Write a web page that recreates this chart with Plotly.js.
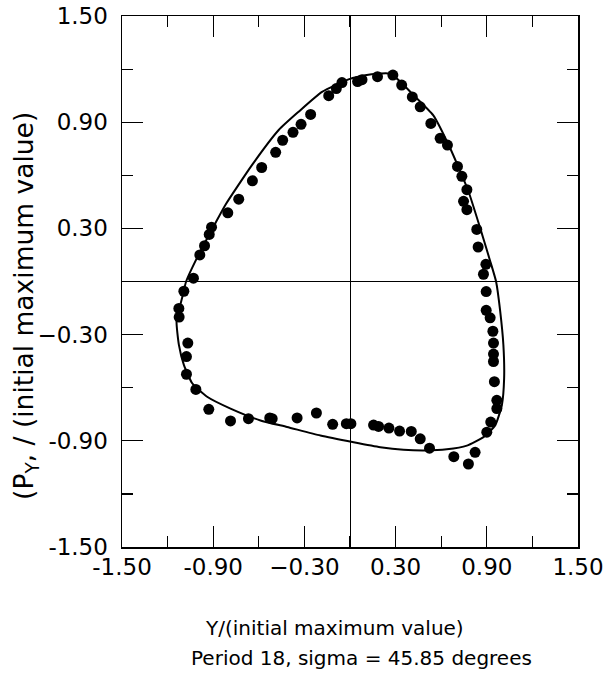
<!DOCTYPE html>
<html>
<head>
<meta charset="utf-8">
<script src="https://cdn.plot.ly/plotly-3.0.1.min.js"></script>
<style>
  html, body { margin: 0; padding: 0; background: #fff; }
  #chart { width: 608px; height: 685px; }
</style>
</head>
<body>
<div id="chart"></div>
<script>
// Measured particle positions (Y, P_Y), normalized
var pointsX = [-1.093, -1.03, -0.988, -0.957, -0.926, -0.911, -0.804, -0.732, -0.642, -0.581,
  -0.489, -0.443, -0.375, -0.322, -0.259, -0.14, -0.09, -0.053, 0.05, 0.079,
  0.181, 0.282, 0.34, 0.41, 0.462, 0.532, 0.593, 0.641, 0.707, 0.736,
  0.769, 0.747, 0.769, 0.834, 0.843, 0.894, 0.878, 0.896, 0.896, 0.922,
  0.94, 0.944, 0.944, 0.944, 0.95, 0.966, 0.966, 0.926, 0.9, 0.823,
  0.779, 0.683, 0.523, 0.462, 0.403, 0.326, 0.256, 0.188, 0.155, 0.006,
  -0.024, -0.114, -0.221, -0.348, -0.512, -0.528, -0.668, -0.786, -0.929, -1.014,
  -1.076, -1.076, -1.067, -1.124, -1.126];
var pointsY = [-0.055, 0.019, 0.15, 0.202, 0.266, 0.307, 0.388, 0.465, 0.569, 0.644,
  0.73, 0.798, 0.843, 0.888, 0.944, 1.05, 1.09, 1.124, 1.13, 1.14,
  1.157, 1.166, 1.11, 1.043, 0.987, 0.893, 0.809, 0.771, 0.65, 0.594,
  0.519, 0.453, 0.406, 0.294, 0.195, 0.097, 0.041, -0.057, -0.163, -0.205,
  -0.281, -0.348, -0.41, -0.452, -0.566, -0.671, -0.718, -0.794, -0.851, -0.965,
  -1.031, -0.99, -0.942, -0.889, -0.847, -0.845, -0.828, -0.819, -0.811, -0.803,
  -0.803, -0.807, -0.743, -0.771, -0.775, -0.771, -0.775, -0.788, -0.722, -0.61,
  -0.524, -0.424, -0.348, -0.201, -0.152];

// Theoretical envelope (closed curve)
var curveX = [-1.078, -0.995, -0.885, -0.819, -0.644, -0.469, -0.338, -0.184, 0.0, 0.1,
  0.177, 0.265, 0.33, 0.41, 0.547, 0.659, 0.779, 0.856, 0.922, 0.961,
  0.988, 1.009, 1.014, 0.999, 0.955, 0.878, 0.769, 0.637, 0.5, 0.352,
  0.199, 0.024, -0.195, -0.414, -0.589, -0.786, -0.94, -1.038, -1.093, -1.126,
  -1.141, -1.104, -1.078];
var curveY = [0.0, 0.153, 0.331, 0.434, 0.659, 0.856, 0.959, 1.071, 1.145, 1.165,
  1.174, 1.174, 1.13, 1.06, 0.94, 0.753, 0.51, 0.303, 0.116, 0.0,
  -0.167, -0.357, -0.547, -0.699, -0.813, -0.879, -0.927, -0.948, -0.955, -0.951,
  -0.936, -0.908, -0.87, -0.822, -0.785, -0.718, -0.651, -0.575, -0.471, -0.357,
  -0.224, -0.091, 0.0];

// Tick labels
var majorTicks = [-1.5, -0.9, -0.3, 0.3, 0.9, 1.5];
var majorLabels = ['-1.50', '-0.90', '\u22120.30', '0.30', '0.90', '1.50'];
var minorTicks = [-1.2, -0.6, 0, 0.6, 1.2];

var xTitle = 'Y/(initial maximum value)';
var yTitle = '(P<sub>Y</sub>, / (initial maximum value)';
var caption = 'Period 18, sigma = 45.85 degrees';

var FONT = 'DejaVu Sans, Liberation Sans, sans-serif';

var traces = [
  {
    x: curveX, y: curveY, type: 'scatter', mode: 'lines',
    line: { color: '#000', width: 2, shape: 'spline', smoothing: 0.5 },
    hoverinfo: 'skip', showlegend: false
  },
  {
    x: pointsX, y: pointsY, type: 'scatter', mode: 'markers',
    marker: { color: '#000', size: 11 },
    showlegend: false
  }
];

function axis(standoff) {
  return {
    range: [-1.5, 1.5],
    tickmode: 'array',
    tickvals: majorTicks,
    ticktext: majorLabels,
    ticks: 'inside',
    ticklen: 21,
    tickwidth: 1.2,
    tickcolor: '#000',
    ticklabelstandoff: standoff,
    minor: { tickmode: 'array', tickvals: minorTicks, ticks: 'inside', ticklen: 11, tickwidth: 1.2, tickcolor: '#000', showgrid: false },
    showline: true, linecolor: '#000', linewidth: 1.5, mirror: 'ticks',
    showgrid: false,
    zeroline: true, zerolinecolor: '#000', zerolinewidth: 1,
    tickfont: { family: FONT, size: 23, color: '#000' },
    automargin: false,
    fixedrange: true
  };
}

var layout = {
  width: 608, height: 685,
  margin: { l: 122, r: 30, t: 16, b: 138 },
  paper_bgcolor: '#fff', plot_bgcolor: '#fff',
  xaxis: axis(-1),
  yaxis: axis(8),
  annotations: [
    {
      text: xTitle, xref: 'paper', yref: 'paper',
      x: 0.467, y: -0.1525, xanchor: 'center', yanchor: 'middle',
      showarrow: false, font: { family: FONT, size: 20, color: '#000' }
    },
    {
      text: caption, xref: 'paper', yref: 'paper',
      x: 0.526, y: -0.209, xanchor: 'center', yanchor: 'middle',
      showarrow: false, font: { family: FONT, size: 20, color: '#000' }
    },
    {
      text: yTitle, xref: 'paper', yref: 'paper',
      x: -0.2105, y: 0.454, xanchor: 'center', yanchor: 'middle', textangle: -90,
      showarrow: false, font: { family: FONT, size: 26.5, color: '#000' }
    }
  ]
};

Plotly.newPlot('chart', traces, layout, { displayModeBar: false, staticPlot: true });
</script>
</body>
</html>
